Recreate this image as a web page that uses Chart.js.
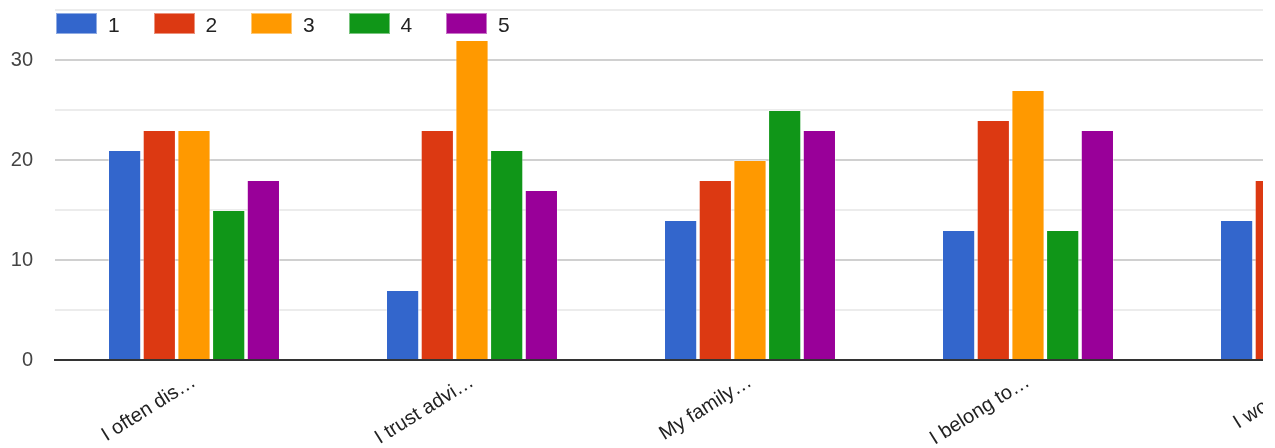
<!DOCTYPE html>
<html>
<head>
<meta charset="utf-8">
<script src="https://cdn.jsdelivr.net/npm/chart.js@4/dist/chart.umd.min.js"></script>
<style>
  html, body { margin: 0; padding: 0; background: #fff; overflow: hidden; }
  #frame { position: relative; width: 1263px; height: 448px; overflow: hidden; }
  #wrap { position: absolute; left: 0; top: 0; width: 1450px; height: 448px; }
  #legend { position: absolute; left: 56px; top: 13px; display: flex;
            font-family: "Liberation Sans", Arial, sans-serif; }
  .item { display: flex; align-items: center; width: 97.5px; height: 21px; }
  .sw { width: 41px; height: 21px; box-sizing: border-box; border: 1px solid rgba(255,255,255,0.45); }
  .lbl { margin-left: 11px; font-size: 21px; line-height: 21px; color: #222; position: relative; top: 1px; }
</style>
</head>
<body>
<div id="frame">
  <div id="wrap"><canvas id="c" width="1450" height="448"></canvas></div>
  <div id="legend"></div>
</div>
<script>
// Survey answers per statement, counted by rating 1..5
const categories = ['I often dis…', 'I trust advi…', 'My family…', 'I belong to…', 'I would…'];
const ratingNames = ['1', '2', '3', '4', '5'];
const rating1 = [21, 7, 14, 13, 14];
const rating2 = [23, 23, 18, 24, 18];
const rating3 = [23, 32, 20, 27, null];
const rating4 = [15, 21, 25, 13, null];
const rating5 = [18, 17, 23, 23, null];
const yTickValues = [0, 10, 20, 30];

const palette = ['#3366cc', '#dc3912', '#ff9900', '#109618', '#990099'];
const seriesValues = [rating1, rating2, rating3, rating4, rating5];
const FONT = '"Liberation Sans", Arial, sans-serif';

const datasets = ratingNames.map((name, i) => ({
  label: name,
  data: seriesValues[i],
  backgroundColor: palette[i],
  borderColor: 'rgba(255,255,255,0.4)',
  borderWidth: 1,
  categoryPercentage: 0.624,
  barPercentage: 0.957
}));

// Builds the row of legend entries from the chart's datasets
const htmlLegend = {
  id: 'htmlLegend',
  afterUpdate(chart) {
    const box = document.getElementById('legend');
    box.innerHTML = '';
    chart.data.datasets.forEach(ds => {
      const item = document.createElement('div');
      item.className = 'item';
      const sw = document.createElement('span');
      sw.className = 'sw';
      sw.style.background = ds.backgroundColor;
      const t = document.createElement('span');
      t.className = 'lbl';
      t.textContent = ds.label;
      item.appendChild(sw);
      item.appendChild(t);
      box.appendChild(item);
    });
  }
};

new Chart(document.getElementById('c'), {
  type: 'bar',
  data: { labels: categories, datasets },
  plugins: [htmlLegend],
  options: {
    responsive: false,
    animation: false,
    layout: { padding: { top: 10, right: 5, left: 0, bottom: 0 } },
    plugins: { legend: { display: false }, tooltip: { enabled: false } },
    scales: {
      x: {
        afterFit(scale) {
          scale.height = 88;
          scale.paddingLeft = 0;
          scale.paddingRight = 0;
        },
        grid: { display: false },
        border: { display: true, color: '#333', width: 2, z: 1 },
        ticks: {
          autoSkip: false,
          maxRotation: 32,
          minRotation: 32,
          padding: 2,
          color: '#222',
          font: { family: FONT, size: 20 }
        }
      },
      y: {
        min: 0,
        max: 35,
        afterFit(scale) {
          scale.width = 55;
          scale.paddingTop = 0;
          scale.paddingBottom = 0;
        },
        border: { display: false },
        grid: {
          drawTicks: false,
          lineWidth: 2,
          color: ctx => {
            const v = ctx.tick.value;
            if (v === 0) return 'rgba(0,0,0,0)';
            return yTickValues.includes(v) ? '#d0d0d0' : '#ececec';
          }
        },
        ticks: {
          stepSize: 5,
          padding: 22,
          color: '#444',
          font: { family: FONT, size: 20 },
          callback: v => (yTickValues.includes(v) ? String(v) : '')
        }
      }
    }
  }
});
</script>
</body>
</html>
